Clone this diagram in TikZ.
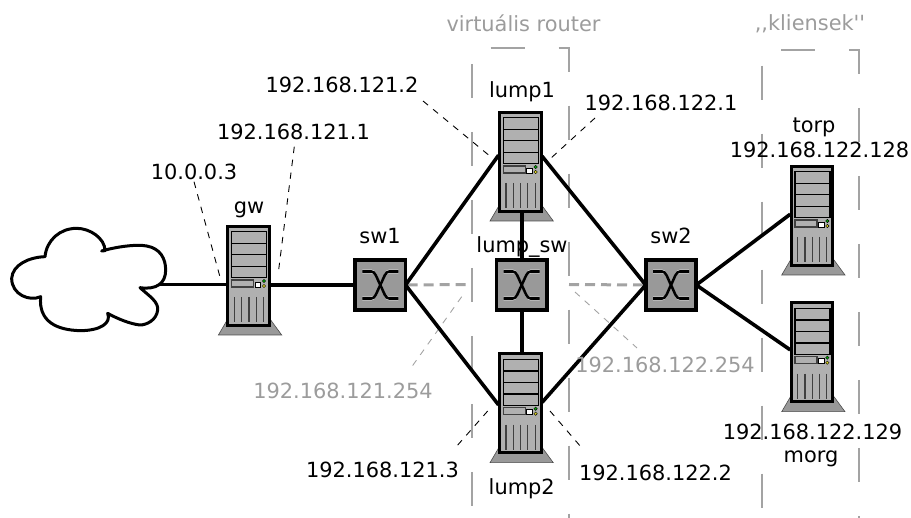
\documentclass[tikz,border=0pt]{standalone}
\usepackage{fontspec}
\newfontfamily\djsans{DejaVu Sans}
\definecolor{srvgray}{HTML}{B0B0B0}
\definecolor{basegray}{HTML}{999999}
\definecolor{swgray}{HTML}{999999}
\definecolor{zonegray}{HTML}{A3A3A3}
\definecolor{labgray}{HTML}{9C9C9C}
\tikzset{
  lab/.style={font=\djsans\fontsize{20.9}{24}\selectfont,text=black,inner sep=0pt,anchor=center},
  glab/.style={lab,text=labgray},
  link/.style={line width=3.6pt,black},
  lead/.style={line width=0.9pt,black,dash pattern=on 6.5pt off 6.5pt},
  gleadline/.style={line width=0.9pt,zonegray,dash pattern=on 6.5pt off 6.5pt},
  gdash/.style={line width=3pt,zonegray,dash pattern=on 10pt off 6pt},
  zone/.style={line width=1.7pt,zonegray,dash pattern=on 34pt off 34pt},
  srvbody/.style={draw=black,line width=3pt,fill=srvgray,minimum width=41.5pt,minimum height=99pt,inner sep=0pt,outer sep=0pt},
  swbox/.style={draw=black,line width=3.8pt,fill=swgray,minimum width=50.5pt,minimum height=50pt,inner sep=0pt,outer sep=0pt},
}
% name, left x, top y of body
\newcommand{\serverpic}[3]{%
  \begin{scope}[shift={(#2,#3)}]
    \fill[basegray,draw=black!70,line width=0.6pt] (0.5,95) -- (-8.3,110) -- (55,110) -- (44,95) -- cycle;
    \node[srvbody] (#1) at (22,50.7) {};
    \foreach \yy in {6.7,18.2,29.7,41.2}
      \draw[black,line width=1.3pt,fill=srvgray] (5,\yy) rectangle (40,\yy+11.5);
    \draw[black!75,line width=1.1pt,fill=srvgray] (5,55) rectangle (27,62);
    \draw[black,line width=0.8pt,fill=white] (28.5,57) rectangle (34,62);
    \fill[green!65!black,draw=black,line width=0.4pt] (37.3,56) circle (1.7);
    \fill[yellow!85!black,draw=black,line width=0.4pt] (37.3,61) circle (1.7);
    \foreach \xx in {7.7,15,22.3,29.6,36.9}
      \draw[black!75,line width=1.1pt] (\xx,72) -- (\xx,97);
  \end{scope}}
% name, centre x, centre y
\newcommand{\switchpic}[3]{%
  \node[swbox] (#1) at (#2,#3) {};
  \begin{scope}[shift={(#2,#3)}]
    \foreach \ss/\cc/\ww in {-1.4/white!85!gray/1pt,1.4/white!85!gray/1pt,0/black/2.6pt}{
      \draw[\cc,line width=\ww,yshift=\ss pt] (-18,-13.5) -- (-9,-13.5) .. controls (-5,-13.5) and (-4,-8) .. (0,0) .. controls (4,8) and (5,13.5) .. (9,13.5) -- (18,13.5);
      \draw[\cc,line width=\ww,yshift=\ss pt] (-18,13.5) -- (-9,13.5) .. controls (-5,13.5) and (-4,8) .. (0,0) .. controls (4,-8) and (5,-13.5) .. (9,-13.5) -- (18,-13.5);
    }
  \end{scope}}
\begin{document}
\begin{tikzpicture}[x=1pt,y=-1pt]
\useasboundingbox (0,0) rectangle (911,518);
\clip (0,0) rectangle (911,518);

% dashed zones
\draw[zone] (490.7,48) -- (569,48) -- (569,518);
\draw[zone] (472,64) -- (472,506);
\draw[zone] (781,50) -- (859,50) -- (859,518);
\draw[zone] (761.7,65.7) -- (761.7,507.7);

% named free ends
\coordinate (cloudend) at (160,284.5);
\coordinate (a1) at (194,181.7);   \coordinate (a2) at (220,277);
\coordinate (b1) at (294.3,146.7); \coordinate (b2) at (278,275);
\coordinate (c1) at (423,101);     \coordinate (c2) at (491,157);
\coordinate (d1) at (595,118);     \coordinate (d2) at (550,159);
\coordinate (e1) at (487.7,411);   \coordinate (e2) at (456,447);
\coordinate (f1) at (550,411);     \coordinate (f2) at (581,447);
\coordinate (g1) at (461.7,296.7); \coordinate (g2) at (410.7,368.3);
\coordinate (h1) at (575,292);     \coordinate (h2) at (637,348);
\coordinate (i1) at (467,284.5);   \coordinate (j1) at (569,284.5);

% cloud
\begin{scope}[shift={(0,220)},x=0.33333pt,y=-0.33333pt]
\draw[black,line width=3pt,fill=white,line join=round]
  (135,110) .. controls (140,60) and (180,25) .. (230,25)
  .. controls (270,25) and (315,55) .. (315,92)
  -- (305,93)
  .. controls (350,80) and (410,72) .. (440,78)
  .. controls (480,85) and (497,115) .. (497,150)
  .. controls (497,190) and (470,210) .. (420,203)
  .. controls (450,230) and (475,245) .. (473,270)
  .. controls (470,300) and (440,315) .. (420,315)
  .. controls (390,312) and (350,295) .. (323,280)
  .. controls (335,310) and (300,332) .. (240,332)
  .. controls (170,330) and (115,305) .. (122,230)
  .. controls (90,245) and (35,225) .. (35,175)
  .. controls (38,135) and (85,112) .. (135,110) -- cycle;
\end{scope}

\serverpic{gw}{226.7}{225}
\serverpic{lumpa}{498.3}{111}
\serverpic{lumpb}{498.3}{352.7}
\serverpic{torp}{790}{165}
\serverpic{morg}{790}{301.7}
\switchpic{sw1}{380.3}{285}
\switchpic{lumpsw}{521.7}{285}
\switchpic{sw2}{671}{285}

% gray dashed stubs and leaders
\draw[gdash] ([xshift=2pt]sw1.east) -- (i1);
\draw[gdash] (j1) -- ([xshift=-2pt]sw2.west);
\draw[gleadline] (g1) -- (g2);
\draw[gleadline] (h1) -- (h2);

% links
\draw[link] (cloudend) -- (gw.west |- cloudend);
\draw[link] (gw.east |- sw1.west) -- (sw1.west);
\draw[link] (sw1.east) -- ([yshift=6.5pt,xshift=-1pt]lumpa.west);
\draw[link] (sw1.east) -- ([yshift=-1.5pt,xshift=-1pt]lumpb.west);
\draw[link] (sw2.west) -- ([yshift=5.5pt,xshift=1pt]lumpa.east);
\draw[link] (sw2.west) -- ([yshift=1pt,xshift=1pt]lumpb.east);
\draw[link] (sw2.east) -- ([yshift=1.5pt,xshift=-1pt]torp.west);
\draw[link] (sw2.east) -- ([yshift=2.5pt,xshift=-1pt]morg.west);
\draw[link] (lumpsw.north) -- (lumpsw.north |- lumpa.south);
\draw[link] (lumpsw.south) -- (lumpsw.south |- lumpb.north);

% leaders
\draw[lead] (a1) -- (a2);
\draw[lead] (b1) -- (b2);
\draw[lead] (c1) -- (c2);
\draw[lead] (d1) -- (d2);
\draw[lead] (e1) -- (e2);
\draw[lead] (f1) -- (f2);

% labels
\node[glab] (tvr) at (523.5,23) {virtuális router};
\node[glab] (tkl) at (810,24) {,,kliensek''};
\node[lab] (t1) at (342,85) {192.168.121.2};
\node[lab] (t2) at (293.5,132) {192.168.121.1};
\node[lab] (t3) at (194,172) {10.0.0.3};
\node[lab] (t4) at (661,103) {192.168.122.1};
\node[lab] (t5) at (382.5,470) {192.168.121.3};
\node[lab] (t6) at (655.5,473) {192.168.122.2};
\node[glab] (t7) at (343,391) {192.168.121.254};
\node[glab] (t8) at (665,365) {192.168.122.254};
\node[lab] (t9) at (819.5,150) {192.168.122.128};
\node[lab] (t10) at (812.5,432) {192.168.122.129};
\node[lab] (ngw) at (249,210) {gw};
\node[lab] (nsw1) at (380,236) {sw1};
\node[lab] (nsw2) at (671,236) {sw2};
\node[lab] (nl1) at (522,92) {lump1};
\node[lab] (nl2) at (521.7,489) {lump2};
\node[lab,anchor=base] (nls) at (522,252.5) {lump\_sw};
\node[lab] (ntorp) at (814,127) {torp};
\node[lab] (nmorg) at (811,459) {morg};
\end{tikzpicture}
\end{document}
